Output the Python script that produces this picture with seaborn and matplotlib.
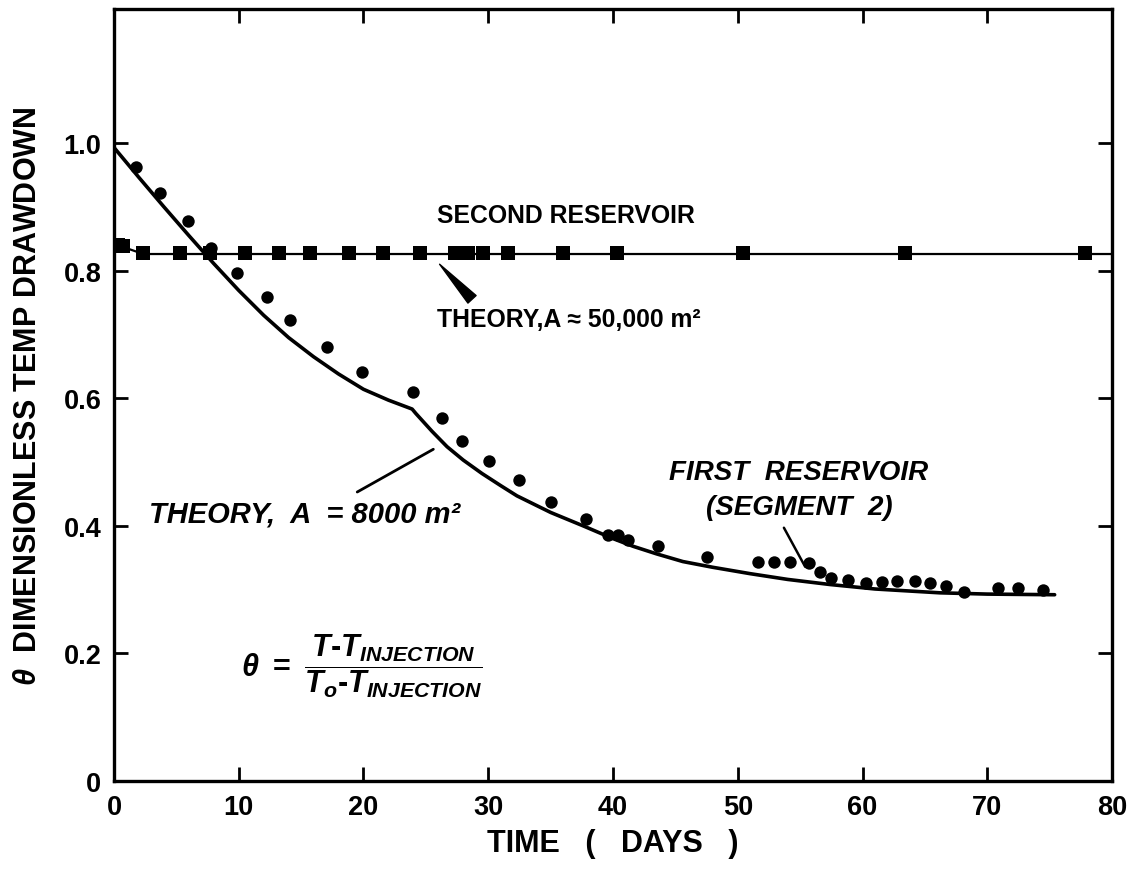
import matplotlib
matplotlib.use("Agg")
import pandas as pd
import matplotlib.pyplot as plt
import seaborn as sns

# first reservoir (segment 2), measured points
first_days = [1.8, 3.7, 5.9, 7.8, 9.9, 12.3, 14.1, 17.1, 19.9, 24.0, 26.3, 27.9,
              30.1, 32.5, 35.0, 37.8, 39.6, 40.4, 41.2, 43.6, 47.5, 51.6, 52.9,
              54.2, 55.7, 56.6, 57.5, 58.8, 60.3, 61.6, 62.8, 64.2, 65.4, 66.7,
              68.1, 70.9, 72.5, 74.5]
first_theta = [0.962, 0.922, 0.877, 0.836, 0.797, 0.758, 0.722, 0.681, 0.641,
               0.609, 0.569, 0.533, 0.502, 0.472, 0.437, 0.410, 0.385, 0.386,
               0.378, 0.369, 0.351, 0.343, 0.344, 0.343, 0.341, 0.327, 0.318,
               0.315, 0.311, 0.312, 0.313, 0.313, 0.310, 0.306, 0.297, 0.302,
               0.302, 0.299]

# theory curve, A = 8000 m2
theory1_days = [0, 2, 4, 6, 8, 10, 12, 14, 16, 18, 20, 22, 23.9, 24.2, 25.5,
                26.7, 28, 29.5, 31, 32.3, 35, 37.6, 40, 41.6, 43.5, 45.6, 48,
                51, 54, 57.4, 61, 66.2, 70, 75.4]
theory1_theta = [0.993, 0.946, 0.900, 0.855, 0.811, 0.769, 0.730, 0.695, 0.665,
                 0.638, 0.614, 0.597, 0.583, 0.576, 0.548, 0.524, 0.503, 0.482,
                 0.463, 0.447, 0.421, 0.400, 0.380, 0.368, 0.356, 0.344, 0.335,
                 0.325, 0.316, 0.308, 0.301, 0.295, 0.293, 0.292]

# second reservoir, measured points
second_days = [0.35, 0.75, 2.35, 5.3, 7.7, 10.5, 13.2, 15.7, 18.8, 21.6, 24.5,
               27.3, 28.4, 29.6, 31.6, 36.0, 40.3, 50.4, 63.4, 77.8]
second_theta = [0.840, 0.838, 0.827, 0.827, 0.827, 0.827, 0.827, 0.827, 0.827,
                0.827, 0.827, 0.827, 0.827, 0.827, 0.827, 0.827, 0.827, 0.827,
                0.827, 0.827]

# theory line, A ~ 50,000 m2
theory2_days = [0, 2.35, 80]
theory2_theta = [0.842, 0.826, 0.826]

x_ticks = [0, 10, 20, 30, 40, 50, 60, 70, 80]
y_ticks = [0, 0.2, 0.4, 0.6, 0.8, 1.0]
y_tick_labels = ['0', '0.2', '0.4', '0.6', '0.8', '1.0']

first = pd.DataFrame({'days': first_days, 'theta': first_theta})
second = pd.DataFrame({'days': second_days, 'theta': second_theta})
theory1 = pd.DataFrame({'days': theory1_days, 'theta': theory1_theta})
theory2 = pd.DataFrame({'days': theory2_days, 'theta': theory2_theta})

sns.set_theme(style="ticks")
plt.rcParams['font.family'] = ['Liberation Sans', 'DejaVu Sans']
plt.rcParams['mathtext.fontset'] = 'custom'
plt.rcParams['mathtext.it'] = 'Liberation Sans:italic:bold'
plt.rcParams['mathtext.rm'] = 'Liberation Sans:bold'
plt.rcParams['mathtext.bf'] = 'Liberation Sans:bold'
for key in ['text.color', 'axes.labelcolor', 'xtick.color', 'ytick.color',
            'axes.edgecolor']:
    plt.rcParams[key] = 'black'

fig = plt.figure(figsize=(11.43, 8.7), dpi=100)
ax = fig.add_axes([0.0997, 0.1011, 0.8732, 0.8874])

sns.lineplot(data=theory1, x='days', y='theta', sort=False, estimator=None,
             color='black', linewidth=2.6, ax=ax)
sns.lineplot(data=theory2, x='days', y='theta', sort=False, estimator=None,
             color='black', linewidth=1.6, ax=ax)
sns.scatterplot(data=first, x='days', y='theta', marker='o', s=80,
                color='black', edgecolor='black', linewidth=0, ax=ax, zorder=3)
sns.scatterplot(data=second, x='days', y='theta', marker='s', s=100,
                color='black', edgecolor='black', linewidth=0, ax=ax, zorder=3)

ax.set_xlim(0, 80)
ax.set_ylim(0, 1.21)
ax.set_xticks(x_ticks)
ax.set_yticks(y_ticks)
ax.set_yticklabels(y_tick_labels)
ax.tick_params(direction='in', length=10, width=2, labelsize=19.5,
               top=True, right=True, pad=9)
for lab in ax.get_xticklabels() + ax.get_yticklabels():
    lab.set_fontweight('bold')
for sp in ax.spines.values():
    sp.set_linewidth(2.4)

ax.set_xlabel('TIME   (   DAYS   )', fontsize=22, fontweight='bold', labelpad=6)
ax.set_ylabel(r'$\theta$  DIMENSIONLESS TEMP DRAWDOWN', fontsize=22,
              fontweight='bold', labelpad=15)

# annotations
ax.text(25.9, 0.887, 'SECOND RESERVOIR', fontsize=17.8, fontweight='bold',
        va='center', ha='left')
ax.text(25.9, 0.724, 'THEORY,A \u2248 50,000 m\u00b2', fontsize=17.8,
        fontweight='bold', va='center', ha='left')
ax.annotate('', xy=(26.1, 0.810), xytext=(28.7, 0.755),
            arrowprops=dict(arrowstyle='wedge,tail_width=0.4', color='black',
                            shrinkA=0, shrinkB=0, mutation_scale=20))
ax.text(2.8, 0.42, 'THEORY,  A  = 8000 m\u00b2', fontsize=21,
        fontweight='bold', fontstyle='italic', va='center', ha='left')
ax.annotate('', xy=(25.6, 0.520), xytext=(19.5, 0.453),
            arrowprops=dict(arrowstyle='-', color='black', lw=2,
                            shrinkA=0, shrinkB=0))
ax.text(54.9, 0.457, 'FIRST  RESERVOIR\n(SEGMENT  2)', fontsize=20,
        fontstyle='italic', fontweight='bold', va='center', ha='center',
        linespacing=1.45)
ax.annotate('', xy=(55.4, 0.336), xytext=(53.7, 0.397),
            arrowprops=dict(arrowstyle='-', color='black', lw=1.8,
                            shrinkA=0, shrinkB=0))
ax.text(10.2, 0.182,
        r'$\theta\ =\ \dfrac{T\text{-}T_{INJECTION}}{T_o\text{-}T_{INJECTION}}$',
        fontsize=22, va='center', ha='left')

fig.savefig('out.png', dpi=100)
